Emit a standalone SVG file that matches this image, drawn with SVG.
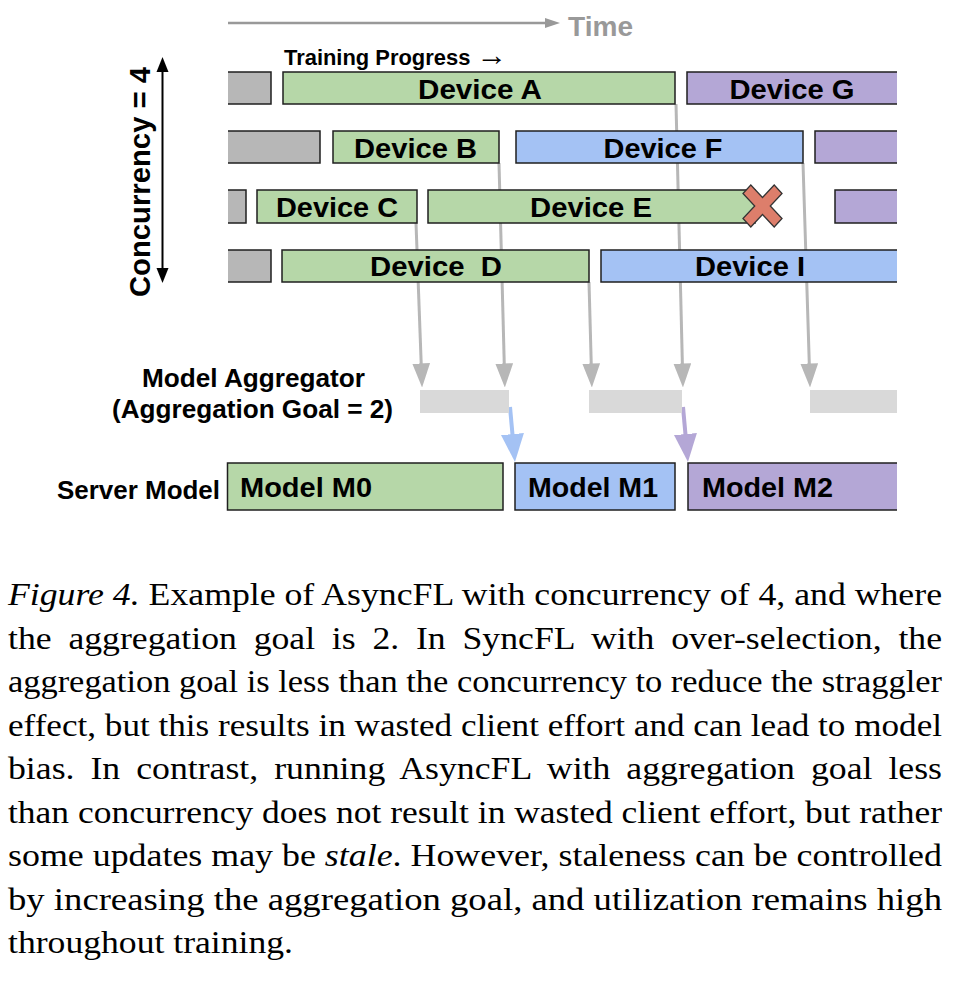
<svg xmlns="http://www.w3.org/2000/svg" width="956" height="981" viewBox="0 0 956 981">
<style>
.lbl{font-family:"Liberation Sans",Arial,sans-serif;font-weight:bold;fill:#000}
.dev{font-size:28.5px;text-anchor:middle}
.mdl{font-size:28px}
.box{stroke:#1f1f1f;stroke-width:1.5}
.g{fill:#b7b7b7}.gr{fill:#b6d7a8}.bl{fill:#a4c2f4}.pu{fill:#b4a7d6}
.agg{fill:#d9d9d9}
.conn{stroke:#b7b7b7;stroke-width:3;fill:none}
.cap{font-family:"Liberation Serif","Times New Roman",serif;font-size:30.5px;fill:#000}
</style>
<defs>
<clipPath id="clip"><rect x="228" y="0" width="669" height="981"/></clipPath>
<marker id="ag" markerUnits="userSpaceOnUse" markerWidth="24" markerHeight="18" viewBox="0 0 23 17" refX="13" refY="8.5" orient="auto"><path d="M0,0 L23,8.5 L0,17 z" fill="#b7b7b7"/></marker>
<marker id="ab" markerUnits="userSpaceOnUse" markerWidth="28" markerHeight="23" viewBox="0 0 28 23" refX="16" refY="11.5" orient="auto"><path d="M0,0 L28,11.5 L0,23 z" fill="#a4c2f4"/></marker>
<marker id="ap" markerUnits="userSpaceOnUse" markerWidth="28" markerHeight="23" viewBox="0 0 28 23" refX="16" refY="11.5" orient="auto"><path d="M0,0 L28,11.5 L0,23 z" fill="#b4a7d6"/></marker>
</defs>

<g id="time-axis">
<line x1="228" y1="23" x2="546" y2="23" stroke="#999" stroke-width="2.5"/>
<polygon points="545,18 560,23 545,28" fill="#999"/>
<text class="lbl" x="568" y="35.5" font-size="28" textLength="65" lengthAdjust="spacingAndGlyphs" style="fill:#999">Time</text>
</g>

<g id="concurrency-axis">
<line x1="162.5" y1="70" x2="162.5" y2="270" stroke="#000" stroke-width="2"/>
<polygon points="162.5,57 156.5,72 168.5,72" fill="#000"/>
<polygon points="162.5,283 156.5,268 168.5,268" fill="#000"/>
<text class="lbl" font-size="29" text-anchor="middle" textLength="230" lengthAdjust="spacingAndGlyphs" transform="translate(150,182) rotate(-90)">Concurrency = 4</text>
</g>

<text id="training-progress" class="lbl" x="284" y="65" font-size="21.5" textLength="223" lengthAdjust="spacingAndGlyphs">Training Progress <tspan font-size="30">→</tspan></text>

<g id="connectors">
<path class="conn" d="M416,223 L421.7,377" marker-end="url(#ag)"/>
<path class="conn" d="M499,163 L504.6,377" marker-end="url(#ag)"/>
<path class="conn" d="M589,282 L591.6,377" marker-end="url(#ag)"/>
<path class="conn" d="M676,104 L682.7,377" marker-end="url(#ag)"/>
<path class="conn" d="M803,163 L809.7,377" marker-end="url(#ag)"/>
<path d="M510,407 L513.9,450" stroke="#a4c2f4" stroke-width="4" fill="none" marker-end="url(#ab)"/>
<path d="M683,407 L686.9,450" stroke="#b4a7d6" stroke-width="4" fill="none" marker-end="url(#ap)"/>
</g>

<g clip-path="url(#clip)">
<g id="row1">
<rect class="box g" x="200" y="72" width="71" height="32"/>
<g id="device-a"><rect class="box gr" x="283" y="72" width="392" height="32"/><text class="lbl dev" x="480" y="98.5" textLength="124" lengthAdjust="spacingAndGlyphs">Device A</text></g>
<g id="device-g"><rect class="box pu" x="687" y="72" width="260" height="32"/><text class="lbl dev" x="792" y="98.5" textLength="125" lengthAdjust="spacingAndGlyphs">Device G</text></g>
</g>
<g id="row2">
<rect class="box g" x="200" y="131" width="120" height="32"/>
<g id="device-b"><rect class="box gr" x="333" y="131" width="166" height="32"/><text class="lbl dev" x="415.5" y="157.5" textLength="123" lengthAdjust="spacingAndGlyphs">Device B</text></g>
<g id="device-f"><rect class="box bl" x="516" y="131" width="287" height="32"/><text class="lbl dev" x="663" y="157.5" textLength="119" lengthAdjust="spacingAndGlyphs">Device F</text></g>
<rect class="box pu" x="815" y="131" width="130" height="32"/>
</g>
<g id="row3">
<rect class="box g" x="200" y="190" width="46" height="33"/>
<g id="device-c"><rect class="box gr" x="257" y="190" width="160" height="33"/><text class="lbl dev" x="337" y="216.5" textLength="122" lengthAdjust="spacingAndGlyphs">Device C</text></g>
<g id="device-e"><rect class="box gr" x="428" y="190" width="327" height="33"/><text class="lbl dev" x="591" y="216.5" textLength="122" lengthAdjust="spacingAndGlyphs">Device E</text></g>
<rect class="box pu" x="835" y="190" width="110" height="33"/>
<polygon id="failure-x" transform="translate(762.5,206) scale(0.975,1.05)" points="-20,-12 -12,-20 0,-8 12,-20 20,-12 8,0 20,12 12,20 0,8 -12,20 -20,12 -8,0" fill="#dd7e6b" stroke="#333" stroke-width="1.3"/>
</g>
<g id="row4">
<rect class="box g" x="200" y="250" width="71" height="32"/>
<g id="device-d"><rect class="box gr" x="282" y="250" width="307" height="32"/><text class="lbl dev" x="436" y="276" textLength="132" lengthAdjust="spacingAndGlyphs" xml:space="preserve">Device  D</text></g>
<g id="device-i"><rect class="box bl" x="601" y="250" width="340" height="32"/><text class="lbl dev" x="750" y="276" textLength="110" lengthAdjust="spacingAndGlyphs">Device I</text></g>
</g>
<g id="aggregator">
<rect class="agg" x="420" y="390" width="89" height="23"/>
<rect class="agg" x="589" y="390" width="93" height="23"/>
<rect class="agg" x="810" y="390" width="100" height="23"/>
</g>
<g id="model-m2"><rect class="box pu" x="688" y="463" width="260" height="47"/><text class="lbl mdl" x="702" y="497" textLength="131" lengthAdjust="spacingAndGlyphs">Model M2</text></g>
</g>

<g id="aggregator-label">
<text class="lbl" x="253.5" y="386.5" font-size="25" text-anchor="middle" textLength="223" lengthAdjust="spacingAndGlyphs">Model Aggregator</text>
<text class="lbl" x="252.5" y="418" font-size="25" text-anchor="middle" textLength="281" lengthAdjust="spacingAndGlyphs">(Aggregation Goal = 2)</text>
</g>

<text id="server-model-label" class="lbl" x="57" y="498.5" font-size="25" textLength="163" lengthAdjust="spacingAndGlyphs">Server Model</text>
<g id="model-m0"><rect class="box gr" x="227.5" y="463" width="275.5" height="47"/><text class="lbl mdl" x="240" y="497" textLength="132" lengthAdjust="spacingAndGlyphs">Model M0</text></g>
<g id="model-m1"><rect class="box bl" x="515" y="463" width="160" height="47"/><text class="lbl mdl" x="528" y="497" textLength="130" lengthAdjust="spacingAndGlyphs">Model M1</text></g>

<g id="caption">
<text class="cap" x="8" y="605" textLength="934" lengthAdjust="spacingAndGlyphs"><tspan font-style="italic">Figure 4.</tspan> Example of AsyncFL with concurrency of 4, and where</text>
<text class="cap" x="8" y="649" word-spacing="6.7" textLength="934" lengthAdjust="spacingAndGlyphs">the aggregation goal is 2. In SyncFL with over-selection, the</text>
<text class="cap" x="8" y="692" textLength="934" lengthAdjust="spacingAndGlyphs">aggregation goal is less than the concurrency to reduce the straggler</text>
<text class="cap" x="8" y="736" textLength="934" lengthAdjust="spacingAndGlyphs">effect, but this results in wasted client effort and can lead to model</text>
<text class="cap" x="8" y="779" word-spacing="6" textLength="934" lengthAdjust="spacingAndGlyphs">bias. In contrast, running AsyncFL with aggregation goal less</text>
<text class="cap" x="8" y="823" textLength="934" lengthAdjust="spacingAndGlyphs">than concurrency does not result in wasted client effort, but rather</text>
<text class="cap" x="8" y="866" textLength="934" lengthAdjust="spacingAndGlyphs">some updates may be <tspan font-style="italic">stale</tspan>. However, staleness can be controlled</text>
<text class="cap" x="8" y="910" textLength="934" lengthAdjust="spacingAndGlyphs">by increasing the aggregation goal, and utilization remains high</text>
<text class="cap" x="8" y="953" textLength="285" lengthAdjust="spacingAndGlyphs">throughout training.</text>
</g>
</svg>
